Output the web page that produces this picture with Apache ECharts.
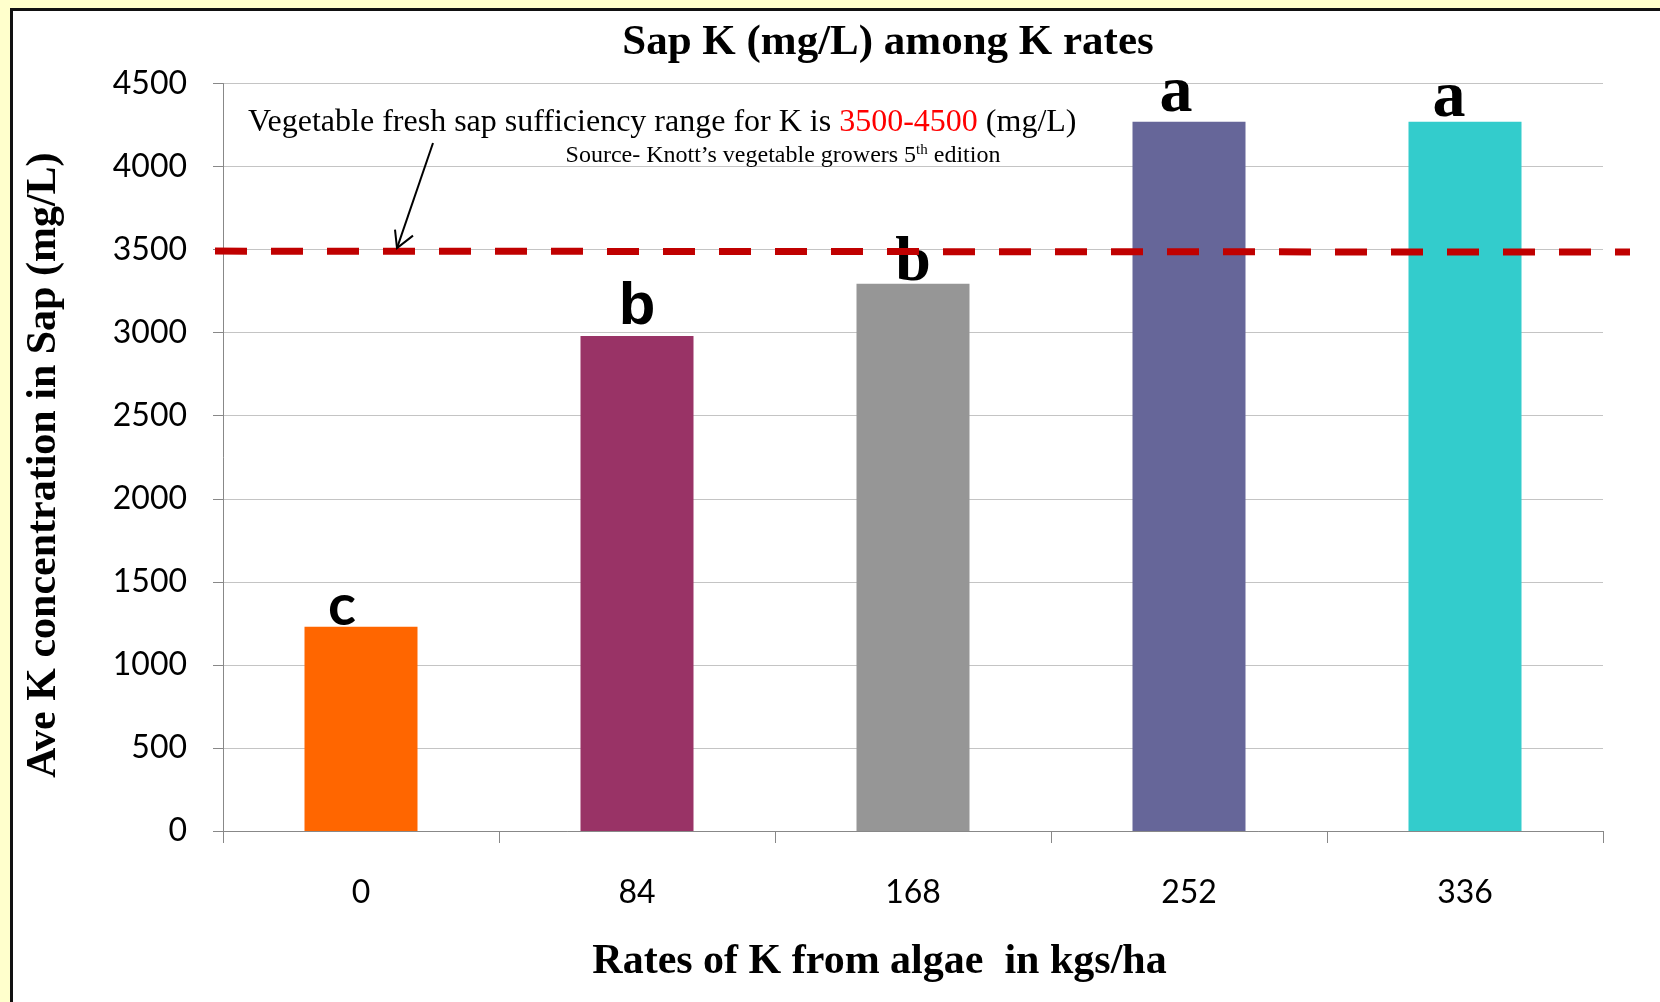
<!DOCTYPE html>
<html><head><meta charset="utf-8">
<script src="https://cdn.jsdelivr.net/npm/echarts@6/dist/echarts.min.js"></script>
<style>
html,body{margin:0;padding:0;background:#FFFFCC;overflow:hidden;}
body{width:1660px;height:1002px;position:relative;}
#frame{position:absolute;left:10px;top:8px;width:1660px;height:1000px;background:#fff;border-left:3px solid #111;border-top:3px solid #111;}
#main{position:absolute;left:0;top:0;width:1660px;height:1002px;}
</style></head>
<body><div id="frame"></div><div id="main"></div>
<script>
// ---- data ----
const categories = ['0', '84', '168', '252', '336'];
const sapK = [1230, 2980, 3295, 4270, 4270];
const sigLetters = ['c', 'b', 'b', 'a', 'a'];
const yMin = 0, yMax = 4500, yStep = 500;
const threshold = 3500;
const titleText = 'Sap K (mg/L) among K rates';
const xName = 'Rates of K from algae  in kgs/ha';
const yName = 'Ave K concentration in Sap (mg/L)';

// ---- styles ----
const barColors = ['#FF6600', '#993366', '#969696', '#666699', '#33CCCC'];
const serif = '"Liberation Serif","Times New Roman",serif';
const sans = 'Lato, "Open Sans", sans-serif';
const labelStyles = [
  {fontFamily: sans, fontSize: 58, offset: [-19, 0], distance: -9},
  {fontFamily: '"Liberation Sans", Arial, sans-serif', fontSize: 60, offset: [0, 0], distance: -1},
  {fontFamily: serif, fontSize: 64, offset: [0, 0], distance: -12},
  {fontFamily: serif, fontSize: 66, offset: [-13, 0], distance: -5},
  {fontFamily: serif, fontSize: 66, offset: [-16, 0], distance: -10}
];

const chart = echarts.init(document.getElementById('main'), null, {renderer: 'canvas'});
chart.setOption({
  animation: false,
  title: {
    text: titleText, left: 883, top: 16, textAlign: 'center',
    textStyle: {fontFamily: serif, fontWeight: 'bold', fontSize: 43, color: '#000'}
  },
  grid: {left: 223, right: 57, top: 83.5, bottom: 171, containLabel: false},
  xAxis: {
    type: 'category', data: categories,
    axisLine: {lineStyle: {color: '#888', width: 1}},
    axisTick: {show: true, length: 12, lineStyle: {color: '#888'}},
    axisLabel: {margin: 46, fontFamily: sans, fontSize: 32, color: '#000'},
    name: xName, nameLocation: 'middle', nameGap: 110,
    nameTextStyle: {fontFamily: serif, fontWeight: 'bold', fontSize: 42, color: '#000', padding: [0, 67, 0, 0]}
  },
  yAxis: {
    type: 'value', min: yMin, max: yMax, interval: yStep,
    axisLine: {show: true, lineStyle: {color: '#888', width: 1}},
    axisTick: {show: true, length: 10, lineStyle: {color: '#888'}},
    splitLine: {lineStyle: {color: '#C4C4C4', width: 1}},
    axisLabel: {margin: 36, fontFamily: sans, fontSize: 32, color: '#000', formatter: v => String(v)},
    name: yName, nameLocation: 'middle', nameGap: 158,
    nameTextStyle: {fontFamily: serif, fontWeight: 'bold', fontSize: 42, color: '#000', padding: [0, 16, 0, 0]}
  },
  series: [{
    type: 'bar', barWidth: 113,
    data: sapK.map((v, i) => ({
      value: v,
      itemStyle: {color: barColors[i]},
      label: Object.assign({
        show: true, position: 'top', fontWeight: 'bold', color: '#000',
        lineHeight: labelStyles[i].fontSize,
        formatter: () => sigLetters[i]
      }, labelStyles[i])
    }))
  }]
});

const yT = chart.convertToPixel({yAxisIndex: 0}, threshold);
chart.setOption({
  graphic: [
    {type: 'line', z: 50, shape: {x1: 215, y1: yT + 1.5, x2: 1630, y2: yT + 2.5},
     style: {stroke: '#C00000', lineWidth: 7, lineDash: [32, 24]}},
    {type: 'line', z: 60, shape: {x1: 433, y1: 143, x2: 397, y2: yT - 1.5},
     style: {stroke: '#000', lineWidth: 2}},
    {type: 'polyline', z: 60, shape: {points: [[395, yT - 20], [397, yT - 1.5], [413, yT - 14]]},
     style: {stroke: '#000', lineWidth: 2, fill: null}},
    {type: 'text', z: 60, x: 248, y: 123,
     style: {
       text: '{n|Vegetable fresh sap sufficiency range for K is }{r|3500-4500}{n| (mg/L)}',
       verticalAlign: 'middle', align: 'left',
       rich: {
         n: {fontFamily: serif, fontSize: 32, fill: '#000'},
         r: {fontFamily: serif, fontSize: 32, fill: '#FF0000'}
       }
     }},
    {type: 'text', z: 60, x: 783, y: 156,
     style: {
       text: '{s|Source- Knott\u2019s vegetable growers 5}{sup|th}{s| edition}',
       verticalAlign: 'middle', align: 'center',
       rich: {
         s: {fontFamily: serif, fontSize: 24, fill: '#000', lineHeight: 27},
         sup: {fontFamily: serif, fontSize: 15, fill: '#000', verticalAlign: 'top', lineHeight: 27, padding: [0, 0, 8, 0]}
       }
     }}
  ]
});
</script>
</body></html>
